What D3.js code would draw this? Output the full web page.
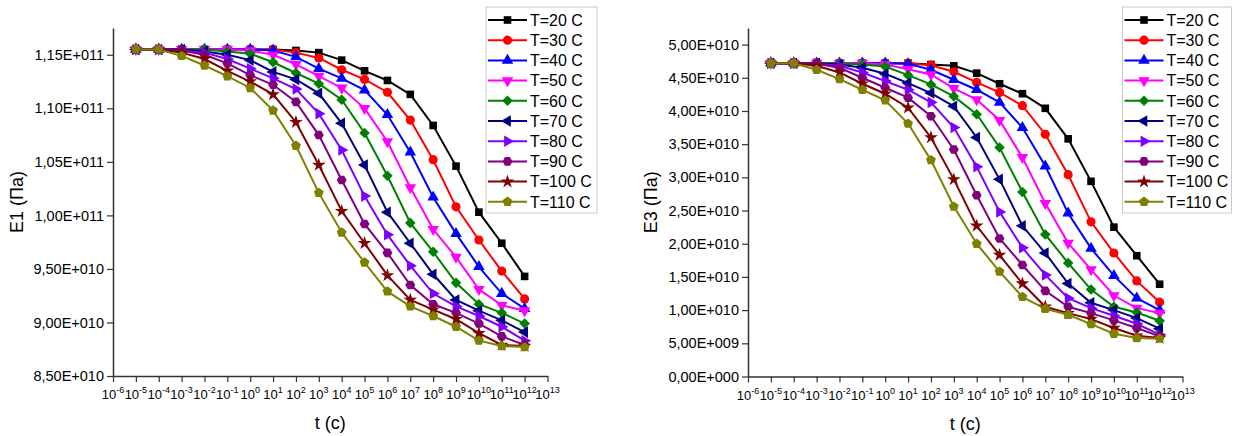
<!DOCTYPE html>
<html>
<head>
<meta charset="utf-8">
<script src="https://cdn.jsdelivr.net/npm/d3@7"></script>
<style>
  body { margin: 0; background: #fff; }
  text { font-family: Arial, "Liberation Sans", sans-serif; fill: #000; }
</style>
</head>
<body>
<svg id="chart" width="1233" height="436"></svg>
<script>
// time points (s)
const times = [1e-5, 1e-4, 1e-3, 1e-2, 1e-1, 1e0, 1e1, 1e2, 1e3, 1e4, 1e5, 1e6, 1e7, 1e8, 1e9, 1e10, 1e11, 1e12];
const seriesNames = ["T=20 C", "T=30 C", "T=40 C", "T=50 C", "T=60 C", "T=70 C", "T=80 C", "T=90 C", "T=100 C", "T=110 C"];
const seriesColors = ["#000000", "#ff0000", "#0000ff", "#ff00ff", "#008000", "#000080", "#8000ff", "#800080", "#800000", "#808000"];

// E1, units of 1E10 Pa
const e1_T20  = [11.55, 11.55, 11.55, 11.55, 11.55, 11.55, 11.55, 11.54, 11.52, 11.45, 11.35, 11.26, 11.13, 10.84, 10.46, 10.03, 9.74, 9.43];
const e1_T30  = [11.55, 11.55, 11.55, 11.55, 11.55, 11.55, 11.55, 11.52, 11.47, 11.36, 11.27, 11.15, 10.89, 10.52, 10.08, 9.77, 9.48, 9.22];
const e1_T40  = [11.55, 11.55, 11.55, 11.55, 11.55, 11.55, 11.54, 11.48, 11.37, 11.28, 11.17, 10.94, 10.59, 10.17, 9.83, 9.52, 9.27, 9.13];
const e1_T50  = [11.55, 11.55, 11.55, 11.55, 11.55, 11.54, 11.50, 11.41, 11.30, 11.19, 11.00, 10.69, 10.26, 9.87, 9.61, 9.31, 9.16, 9.11];
const e1_T60  = [11.55, 11.55, 11.55, 11.55, 11.53, 11.51, 11.43, 11.33, 11.23, 11.08, 10.77, 10.37, 9.93, 9.66, 9.37, 9.17, 9.09, 8.99];
const e1_T70  = [11.55, 11.55, 11.55, 11.53, 11.50, 11.45, 11.34, 11.27, 11.14, 10.86, 10.47, 10.03, 9.74, 9.45, 9.21, 9.11, 9.02, 8.91];
const e1_T80  = [11.55, 11.55, 11.54, 11.52, 11.46, 11.37, 11.28, 11.18, 10.95, 10.61, 10.18, 9.82, 9.53, 9.27, 9.15, 9.06, 8.96, 8.83];
const e1_T90  = [11.55, 11.55, 11.54, 11.50, 11.42, 11.31, 11.22, 11.06, 10.75, 10.33, 9.92, 9.65, 9.35, 9.17, 9.09, 8.99, 8.87, 8.79];
const e1_T100 = [11.55, 11.55, 11.52, 11.46, 11.35, 11.25, 11.13, 10.87, 10.47, 10.04, 9.74, 9.44, 9.21, 9.12, 9.03, 8.90, 8.79, 8.78];
const e1_T110 = [11.55, 11.55, 11.49, 11.40, 11.30, 11.19, 10.98, 10.65, 10.21, 9.84, 9.56, 9.29, 9.15, 9.06, 8.96, 8.83, 8.78, 8.77];

// E3, units of 1E10 Pa
const e3_T20  = [4.72, 4.72, 4.72, 4.72, 4.72, 4.72, 4.72, 4.70, 4.68, 4.57, 4.41, 4.26, 4.04, 3.58, 2.94, 2.25, 1.82, 1.39];
const e3_T30  = [4.72, 4.72, 4.72, 4.72, 4.72, 4.72, 4.72, 4.69, 4.59, 4.43, 4.28, 4.08, 3.65, 3.04, 2.33, 1.86, 1.44, 1.12];
const e3_T40  = [4.72, 4.72, 4.72, 4.72, 4.72, 4.72, 4.71, 4.62, 4.47, 4.32, 4.13, 3.75, 3.17, 2.46, 1.93, 1.52, 1.18, 1.00];
const e3_T50  = [4.72, 4.72, 4.72, 4.72, 4.72, 4.70, 4.63, 4.55, 4.34, 4.17, 3.86, 3.30, 2.61, 2.01, 1.61, 1.22, 1.03, 0.955];
const e3_T60  = [4.72, 4.72, 4.72, 4.72, 4.70, 4.67, 4.54, 4.40, 4.22, 3.95, 3.45, 2.78, 2.14, 1.71, 1.31, 1.05, 0.965, 0.84];
const e3_T70  = [4.72, 4.72, 4.72, 4.70, 4.65, 4.56, 4.42, 4.27, 4.07, 3.60, 2.97, 2.27, 1.86, 1.40, 1.11, 1.00, 0.88, 0.72];
const e3_T80  = [4.72, 4.72, 4.71, 4.68, 4.58, 4.45, 4.32, 4.13, 3.75, 3.16, 2.48, 1.94, 1.53, 1.18, 1.03, 0.915, 0.795, 0.63];
const e3_T90  = [4.72, 4.72, 4.71, 4.65, 4.50, 4.35, 4.20, 3.92, 3.42, 2.73, 2.08, 1.68, 1.29, 1.05, 0.955, 0.845, 0.73, 0.605];
const e3_T100 = [4.72, 4.72, 4.68, 4.58, 4.41, 4.26, 4.05, 3.60, 2.97, 2.27, 1.83, 1.40, 1.05, 0.955, 0.865, 0.73, 0.615, 0.58];
const e3_T110 = [4.72, 4.72, 4.62, 4.48, 4.32, 4.16, 3.81, 3.26, 2.56, 2.00, 1.58, 1.20, 1.02, 0.93, 0.79, 0.645, 0.58, 0.57];

// axis ticks
const xTickExps = [-6, -5, -4, -3, -2, -1, 0, 1, 2, 3, 4, 5, 6, 7, 8, 9, 10, 11, 12, 13];
const e1Ticks = [8.5, 9.0, 9.5, 10.0, 10.5, 11.0, 11.5];
const e1TickLabels = ["8,50E+010", "9,00E+010", "9,50E+010", "1,00E+011", "1,05E+011", "1,10E+011", "1,15E+011"];
const e3Ticks = [0, 0.5, 1.0, 1.5, 2.0, 2.5, 3.0, 3.5, 4.0, 4.5, 5.0];
const e3TickLabels = ["0,00E+000", "5,00E+009", "1,00E+010", "1,50E+010", "2,00E+010", "2,50E+010", "3,00E+010", "3,50E+010", "4,00E+010", "4,50E+010", "5,00E+010"];

const svg = d3.select("#chart");
const axisColor = "#333";

// marker shapes
function polygon(n, rot) {
  return {
    draw(ctx, size) {
      const r = Math.sqrt(size / (n / 2 * Math.sin(2 * Math.PI / n)));
      for (let i = 0; i < n; i++) {
        const a = rot + i * 2 * Math.PI / n;
        const px = r * Math.cos(a), py = r * Math.sin(a);
        if (i === 0) ctx.moveTo(px, py); else ctx.lineTo(px, py);
      }
      ctx.closePath();
    }
  };
}
const markers = [
  { type: polygon(4, Math.PI / 4), size: 58 },        // square
  { type: d3.symbolCircle, size: 66 },                  // circle
  { type: polygon(3, -Math.PI / 2), size: 58 },        // up triangle
  { type: polygon(3, Math.PI / 2), size: 58 },         // down triangle
  { type: polygon(4, 0), size: 56 },                   // diamond
  { type: polygon(3, Math.PI), size: 58 },             // left triangle
  { type: polygon(3, 0), size: 58 },                   // right triangle
  { type: polygon(6, 0), size: 64 },                   // hexagon
  { type: d3.symbolStar, size: 58 },                   // star
  { type: polygon(5, -Math.PI / 2), size: 64 }         // pentagon
];
function markerPath(i) {
  return d3.symbol().type(markers[i].type).size(markers[i].size)();
}

function drawChart(cfg) {
  const g = svg.append("g");
  const x = d3.scaleLog().domain([1e-6, 1e13]).range([cfg.x0, cfg.x1]);
  const y = d3.scaleLinear().domain(cfg.yDomain).range([cfg.yBottom, cfg.yTop]);

  // minor ticks on x
  const xMajor = xTickExps.map(k => Math.pow(10, k));
  const xMinor = [];
  xTickExps.slice(0, -1).forEach(k => { for (let m = 2; m <= 9; m++) xMinor.push(m * Math.pow(10, k)); });

  const gx = g.append("g").attr("transform", `translate(0,${cfg.yBottom})`);
  gx.call(d3.axisBottom(x).tickValues(xMinor).tickSize(3).tickSizeOuter(0).tickFormat(""));
  gx.call(d3.axisBottom(x).tickValues(xMajor).tickSize(6).tickSizeOuter(0).tickFormat(""));
  gx.selectAll("path.domain").attr("stroke", axisColor).attr("stroke-width", 1.5);
  gx.selectAll(".tick line").attr("stroke", axisColor).attr("stroke-width", 1.2);

  // x tick labels: 10^k
  xTickExps.forEach(k => {
    const t = g.append("text")
      .attr("x", x(Math.pow(10, k)))
      .attr("y", cfg.yBottom + 23)
      .attr("text-anchor", "middle")
      .attr("font-size", 13);
    t.append("tspan").text("10");
    t.append("tspan").attr("font-size", 9).attr("dy", -6).text(k);
  });

  // y axis
  const gy = g.append("g").attr("transform", `translate(${cfg.x0},0)`);
  const yMinor = [];
  for (let i = 0; i < cfg.yTicks.length; i++) yMinor.push(cfg.yTicks[i] + cfg.yStep / 2);
  gy.call(d3.axisLeft(y).tickValues(yMinor.filter(v => v <= cfg.yDomain[1])).tickSize(3).tickSizeOuter(0).tickFormat(""));
  gy.call(d3.axisLeft(y).tickValues(cfg.yTicks).tickSize(6).tickSizeOuter(0)
    .tickFormat((d, i) => cfg.yLabels[i]));
  gy.selectAll("path.domain").attr("stroke", axisColor).attr("stroke-width", 1.5);
  gy.selectAll(".tick line").attr("stroke", axisColor).attr("stroke-width", 1.2);
  gy.selectAll(".tick text").attr("font-size", 14.5).attr("font-family", "Arial, 'Liberation Sans', sans-serif")
    .attr("fill", "#000").attr("x", -9);

  // axis titles
  g.append("text")
    .attr("transform", `translate(${cfg.yTitleX},${(cfg.yTop + cfg.yBottom) / 2}) rotate(-90)`)
    .attr("text-anchor", "middle").attr("dy", "0.35em")
    .attr("font-size", 18).text(cfg.yTitle);
  g.append("text")
    .attr("x", (cfg.x0 + cfg.x1) / 2).attr("y", cfg.yBottom + 53)
    .attr("text-anchor", "middle").attr("font-size", 18).text("t (c)");

  // series
  const line = d3.line().x((d, i) => x(times[i])).y(d => y(d));
  cfg.series.forEach((vals, si) => {
    const sg = g.append("g");
    sg.append("path").datum(vals).attr("d", line)
      .attr("fill", "none").attr("stroke", seriesColors[si]).attr("stroke-width", 2);
    sg.selectAll("path.m").data(vals).join("path").attr("class", "m")
      .attr("d", markerPath(si))
      .attr("transform", (d, i) => `translate(${x(times[i])},${y(d)})`)
      .attr("fill", seriesColors[si]);
  });

  // legend
  const lg = g.append("g").attr("transform", `translate(${cfg.legX},${cfg.legY})`);
  lg.append("rect").attr("width", cfg.legW).attr("height", 206)
    .attr("fill", "#fff").attr("stroke", "#c8c8c8").attr("stroke-width", 1);
  seriesNames.forEach((name, i) => {
    const ry = 13 + i * 20.2;
    lg.append("line").attr("x1", 2).attr("x2", 41).attr("y1", ry).attr("y2", ry)
      .attr("stroke", seriesColors[i]).attr("stroke-width", 2);
    lg.append("path").attr("d", markerPath(i))
      .attr("transform", `translate(21.5,${ry})`).attr("fill", seriesColors[i]);
    lg.append("text").attr("x", 44).attr("y", ry).attr("dy", "0.36em")
      .attr("font-size", 16).text(name);
  });
}

drawChart({
  x0: 113, x1: 547.5, yTop: 28, yBottom: 376,
  yDomain: [8.5, 11.75], yTicks: e1Ticks, yLabels: e1TickLabels, yStep: 0.5,
  yTitle: "E1 (Па)", yTitleX: 17,
  series: [e1_T20, e1_T30, e1_T40, e1_T50, e1_T60, e1_T70, e1_T80, e1_T90, e1_T100, e1_T110],
  legX: 486, legY: 7, legW: 111
});

drawChart({
  x0: 748, x1: 1182.5, yTop: 28, yBottom: 376.5,
  yDomain: [0, 5.25], yTicks: e3Ticks, yLabels: e3TickLabels, yStep: 0.5,
  yTitle: "E3 (Па)", yTitleX: 651,
  series: [e3_T20, e3_T30, e3_T40, e3_T50, e3_T60, e3_T70, e3_T80, e3_T90, e3_T100, e3_T110],
  legX: 1122.5, legY: 7, legW: 109
});
</script>
</body>
</html>
